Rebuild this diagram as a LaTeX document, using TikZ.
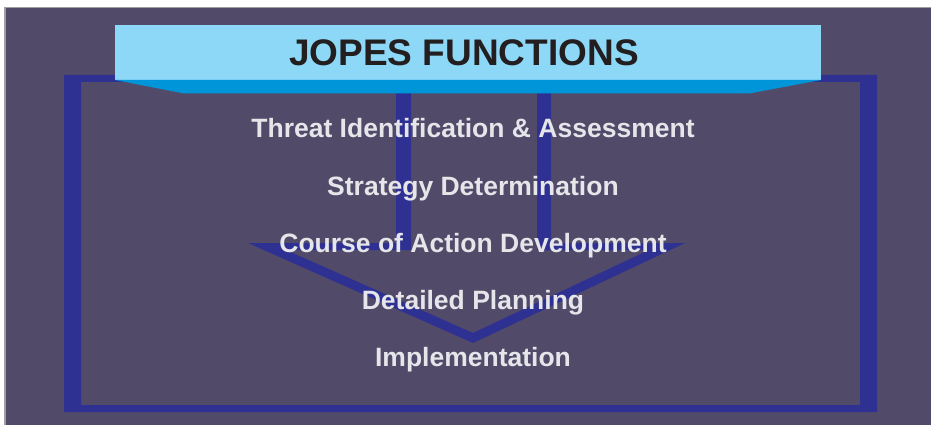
\documentclass[tikz,border=0pt]{standalone}
\usepackage{fontspec}
\setmainfont{Liberation Sans}
\usepackage{tikz}

\definecolor{slatebg}{HTML}{514B69}
\definecolor{framebl}{HTML}{2E3192}
\definecolor{skybl}{HTML}{8DD7F7}
\definecolor{deepbl}{HTML}{0095D9}
\definecolor{inkgrey}{HTML}{231F20}
\definecolor{paleink}{HTML}{E6E6EA}

\tikzset{
  funcline/.style={text=paleink, anchor=base, inner sep=0pt,
                   font=\fontsize{26.5}{30}\selectfont\bfseries},
  titletext/.style={text=inkgrey, anchor=base, inner sep=0pt,
                    font=\fontsize{37}{40}\selectfont\bfseries}
}

\begin{document}
\begin{tikzpicture}[x=1pt, y=-1pt]
  \useasboundingbox (0,0) rectangle (931,425);

  % ---------- slide background ----------
  \fill[white]   (0,0) rectangle (931,425);
  \fill[gray!75] (4,7) rectangle (931,425);
  \fill[slatebg] (5.5,8.5) rectangle (931,425);

  % ---------- outer frame ----------
  \fill[framebl, even odd rule]
    (64,75) rectangle (877,412)
    (81,82) rectangle (860,405);

  % ---------- down arrow outline ----------
  \fill[framebl, even odd rule]
    (396,88) -- (396,243) -- (248,243) -- (473,343) -- (685,243)
      -- (551,243) -- (551,88) -- cycle
    (411,88) -- (411,250) -- (286,250) -- (473,333) -- (649,250)
      -- (537,250) -- (537,88) -- cycle;

  % ---------- title banner ----------
  \fill[skybl]  (115,25) rectangle (821,80);
  \fill[deepbl] (115,80) -- (821,80) -- (749,93.5) -- (184,93.5) -- cycle;
  \node[titletext] (title) at (464,66) {JOPES FUNCTIONS};

  % ---------- the five functions ----------
  \foreach \txt [count=\i from 0] in {Threat Identification \& Assessment,
      Strategy Determination, Course of Action Development,
      Detailed Planning, Implementation}{
    \node[funcline] (func\i) at (473,138+57*\i) {\txt};
  }

\end{tikzpicture}
\end{document}
